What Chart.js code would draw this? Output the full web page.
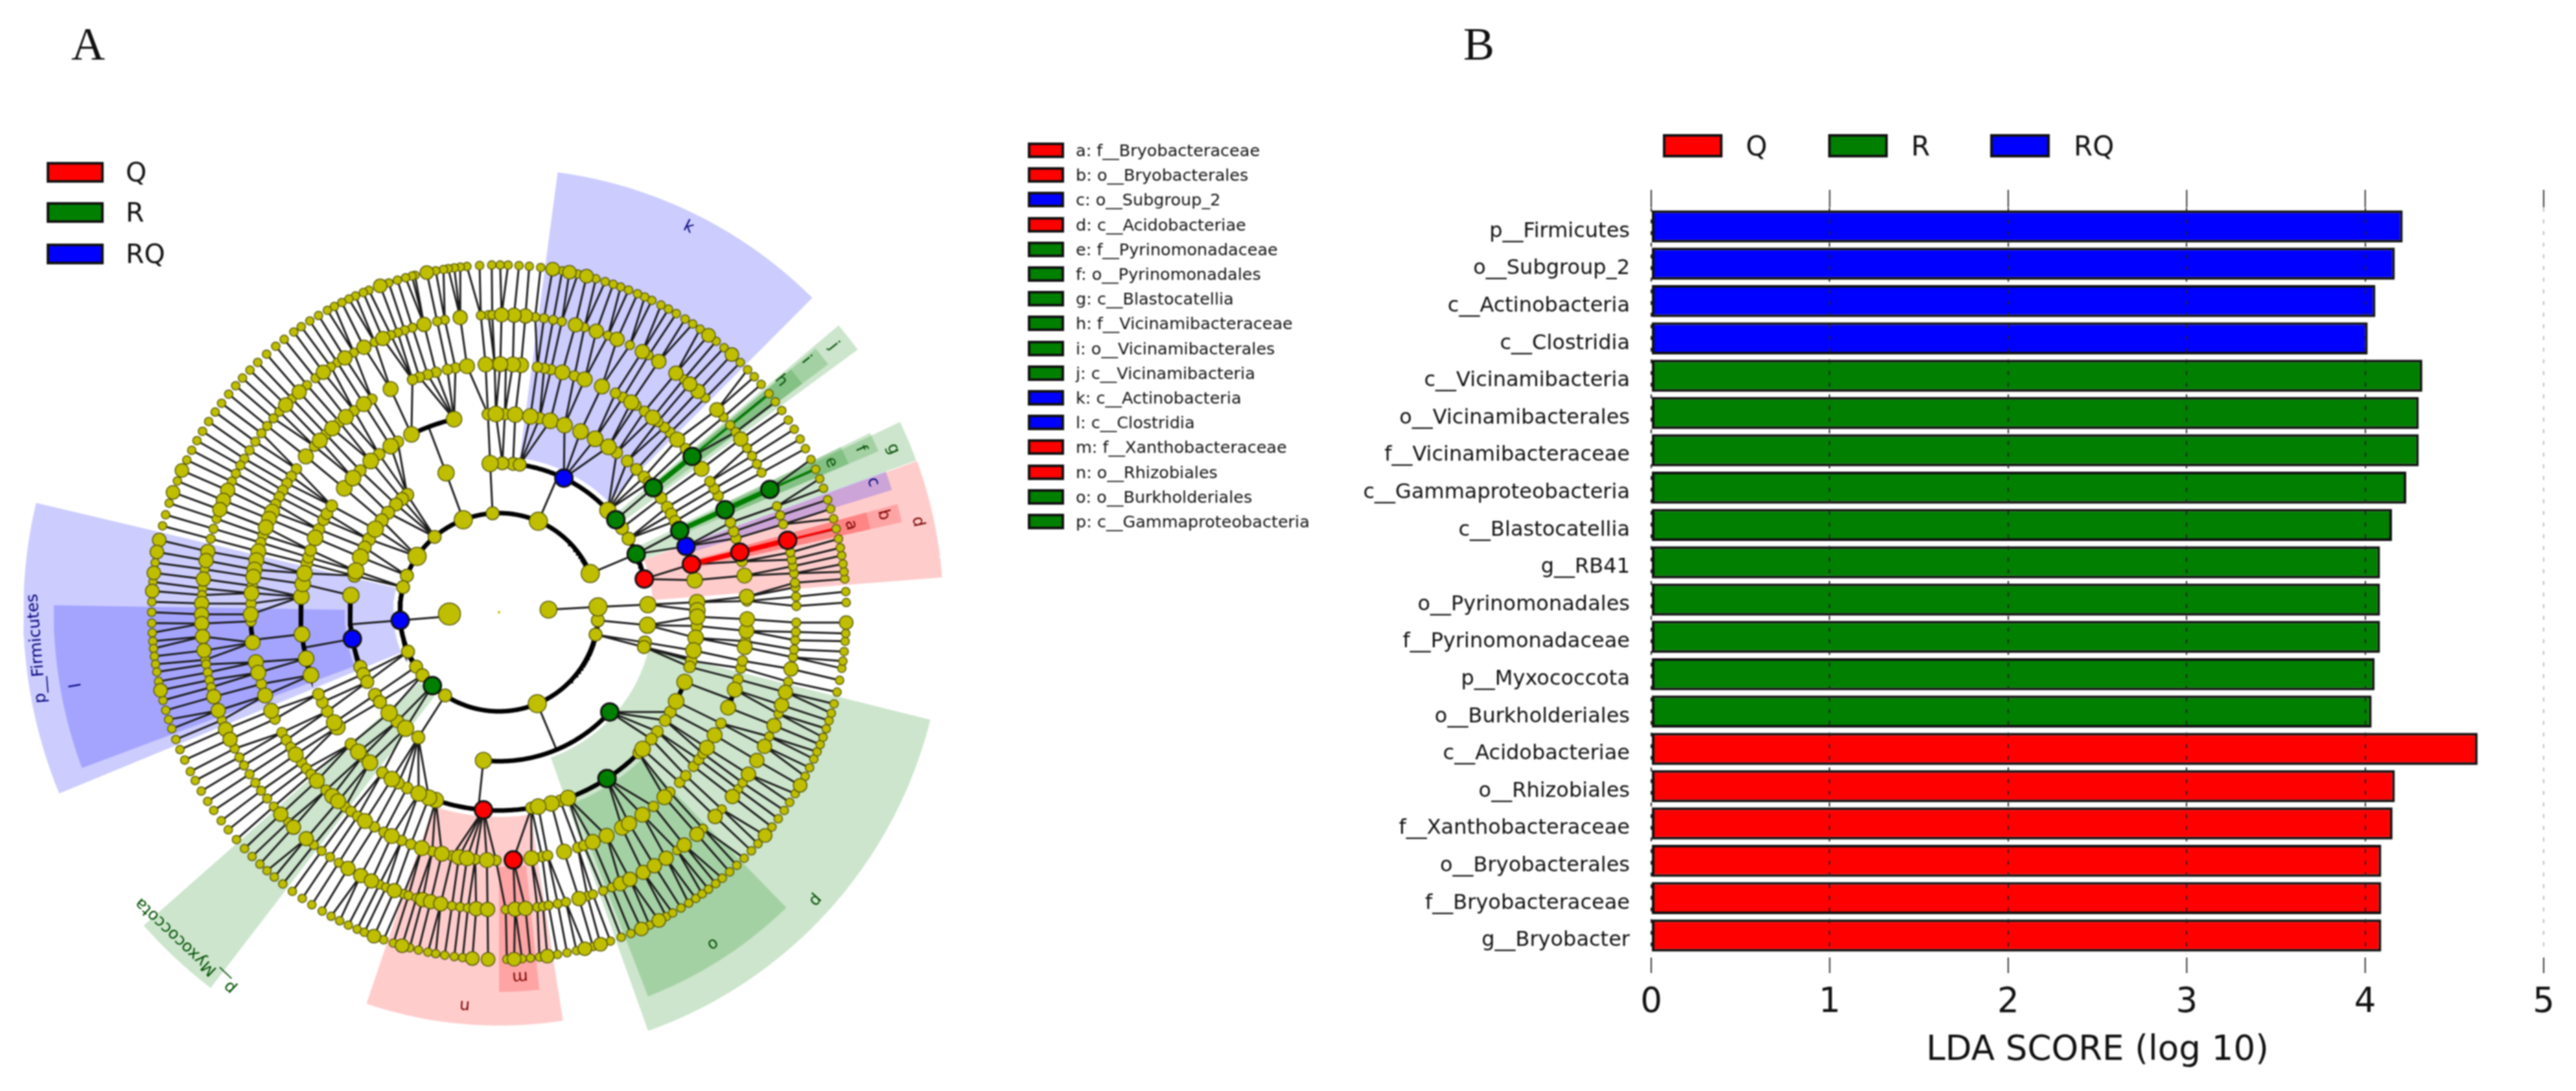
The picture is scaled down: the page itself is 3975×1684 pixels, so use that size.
<!DOCTYPE html>
<html>
<head>
<meta charset="utf-8">
<script src="https://cdn.jsdelivr.net/npm/chart.js@4/dist/chart.umd.min.js"></script>
<style>
body { margin: 0; background: #fff; font-family: "DejaVu Sans", sans-serif; color: #111; }
#page { position: relative; width: 3975px; height: 1684px; overflow: hidden; filter: blur(0.8px); }
canvas { position: absolute; display: block; }
.letter { position: absolute; font-family: "Liberation Serif", serif; font-size: 72px; line-height: 72px; }
.sw { position: absolute; box-sizing: border-box; border: 4px solid #111; }
.txt { position: absolute; white-space: pre; transform: translateY(-50%); }
</style>
</head>
<body>
<div id="page">
  <canvas id="clado" width="1500" height="1684" style="left:0;top:0"></canvas>
  <canvas id="bars" width="1946" height="1684" style="left:2040px;top:0"></canvas>
  <div class="letter" style="left:110px;top:32px">A</div>
  <div class="letter" style="left:2258px;top:32px">B</div>
</div>
<script>
// panel B
const categories = ['p__Firmicutes', 'o__Subgroup_2', 'c__Actinobacteria', 'c__Clostridia', 'c__Vicinamibacteria',
  'o__Vicinamibacterales', 'f__Vicinamibacteraceae', 'c__Gammaproteobacteria', 'c__Blastocatellia', 'g__RB41',
  'o__Pyrinomonadales', 'f__Pyrinomonadaceae', 'p__Myxococcota', 'o__Burkholderiales', 'c__Acidobacteriae',
  'o__Rhizobiales', 'f__Xanthobacteraceae', 'o__Bryobacterales', 'f__Bryobacteraceae', 'g__Bryobacter']
const ldaScores = [4.21, 4.166, 4.057, 4.014, 4.32, 4.30, 4.30, 4.23, 4.15, 4.083,
  4.083, 4.083, 4.053, 4.036, 4.63, 4.166, 4.153, 4.09, 4.09, 4.09]
const barGroups = ['RQ', 'RQ', 'RQ', 'RQ', 'R', 'R', 'R', 'R', 'R', 'R', 'R', 'R', 'R', 'R', 'Q', 'Q', 'Q', 'Q', 'Q', 'Q']
const xTicks = [0, 1, 2, 3, 4, 5]
const groupNames = ['Q', 'R', 'RQ']
const groupColors = { Q: '#ff0000', R: '#007f00', RQ: '#0000ff' }

// panel A legend
const cladeNames = ['a: f__Bryobacteraceae', 'b: o__Bryobacterales', 'c: o__Subgroup_2', 'd: c__Acidobacteriae',
  'e: f__Pyrinomonadaceae', 'f: o__Pyrinomonadales', 'g: c__Blastocatellia', 'h: f__Vicinamibacteraceae',
  'i: o__Vicinamibacterales', 'j: c__Vicinamibacteria', 'k: c__Actinobacteria', 'l: c__Clostridia',
  'm: f__Xanthobacteraceae', 'n: o__Rhizobiales', 'o: o__Burkholderiales', 'p: c__Gammaproteobacteria']
const cladeGroups = ['Q', 'Q', 'RQ', 'Q', 'R', 'R', 'R', 'R', 'R', 'R', 'RQ', 'RQ', 'Q', 'Q', 'R', 'R']

// cladogram: radius of each level, then node angles (degrees) read per level
const ringRadius = [0, 76.5, 153, 230, 306, 383, 459, 536]
const smallRadius = [0, 13, 10, 10, 9, 8, 7, 6.5]
const bigRadius = [0, 17, 14, 12.5, 12, 11.5, 11, 10.5]

const ring1Small = [3]
const ring1Big = [182]
const ring2Small = [355.3, 347, 93.7, 130.5, 158.3, 165.3, 203.4, 213.3, 219.5, 237.1]
const ring2Big = [3.1, 23, 66.6, 111.1, 145.7, 292.7]
const ring3Small = [348.3, 346.5, 84.6, 82, 88.7, 29.6, 34.4, 128, 130.6, 133.7, 138.1, 141.9, 150.7, 154.3, 165.8,
  201.5, 204.5, 207.9, 213.7, 217, 227, 237.2]
const ring3Big = [2.9, 355, 43.1, 93.4, 110.8, 146.1, 158.3, 163.9, 173.5, 222.5, 231.2, 264]
const ring4Small = [88.3, 78.2, 53.6, 49.7, 46.1, 43, 40.8, 35.2, 32, 29.7, 27.3, 356, 345.8, 344, 329.8, 326.9, 323,
  320.2, 314.8, 288, 279.4, 242.4, 239.5, 234, 226.6, 221.7, 210, 207, 204.4, 165.7, 163.9, 161.8, 155.3, 152.2,
  150.2, 147.5, 134.4, 127.2, 120.7, 93.2]
const ring4Big = [85.3, 80.9, 75, 70.7, 65.7, 61, 56.5, 9.3, 2.9, 0.5, 358.7, 352.6, 348.9, 339.4, 333.3, 316.4, 290.4,
  285.3, 281.4, 251.4, 249.3, 246.1, 237.3, 229.4, 224.8, 215.4, 213.8, 198.5, 193.5, 186.4, 175.5, 171.8, 168.7,
  158, 141.3, 137.4, 130.3, 123.1, 116.2, 103.1, 90.9]
const ring5Small = [100.1, 102, 104.7, 106.7, 108.7, 110.4, 120.8, 125.7, 130, 134.2, 138, 144.7, 146.8, 148.7, 150.6,
  152.3, 154.2, 161.9, 163.7, 173.9, 178, 182.1, 196.8, 205.5, 209, 211, 213, 217.3, 219.1, 220.8, 225.8, 231.7,
  233.4, 235.3, 239.9, 242.4, 246.9, 249.2, 254.4, 259.1, 264.5, 269.3, 280, 281.3, 288.5, 290, 308.5, 313.5, 316.7,
  318.8, 321.6, 323.6, 325.3, 333.4, 344.3, 347, 348.7, 353.3, 2.6, 11.8, 17.3, 19, 21.2, 28, 29.9, 31.8, 41.3, 46.4,
  48.2, 50.2, 54.1, 56.5, 60, 62, 72.3, 77.9, 79.5, 81.1, 88.4, 91]
const ring5Big = [97.4, 115.9, 123, 128.1, 132.2, 136.2, 141.1, 156.1, 157.9, 160, 165.8, 167.9, 170.1, 171.8, 175.6,
  180.5, 187, 191.6, 194.1, 199.6, 203.4, 215, 222.8, 227.8, 229.6, 237.3, 244.4, 251.9, 256.7, 260.7, 262.6, 267.2,
  277.5, 285.2, 292.2, 295.7, 299.7, 301.6, 305.3, 311.8, 326.9, 330.3, 337.4, 341.8, 351.9, 355.7, 358.4, 3.6, 8.5,
  35.3, 44.1, 51.7, 57.8, 65.5, 69.8, 75.2, 84.9, 86.8, 89.7, 93.1]
const ring6Small = [92, 93.5, 100.5, 102, 106.9, 108.5, 109.9, 111.3, 114.7, 119.2, 122.9, 124.4, 128.1, 130.2, 134.1,
  137.6, 139.3, 141.2, 143, 145, 147, 148.9, 150.4, 152.2, 153.9, 161.7, 163.7, 165.7, 171.7, 175.4, 176.7, 189.2,
  190.1, 191.7, 193.2, 194.6, 201.3, 207.3, 209.2, 211, 213, 215, 216.9, 218.8, 220.8, 224.9, 231.5, 233.4, 235.4,
  237.4, 246.3, 247.7, 251.3, 252.3, 253.9, 260.9, 262.5, 264, 271.3, 277.4, 278.5, 279.6, 281.4, 283, 287.3, 288.4,
  290.5, 292.3, 306.8, 313.3, 318.5, 323.5, 325, 335.3, 340, 346.5, 351.3, 352.8, 354.6, 356.2, 358, 1.2, 3, 4.8, 5.7,
  7.5, 8.9, 10.2, 11.6, 17.2, 19, 20.9, 28, 29.9, 31.7, 33.5, 37.3, 39, 41, 46.1, 51.6, 59.8, 63.9, 68.5, 73.3, 77.8,
  79.5, 81.3, 83, 91.3]
const ring6Big = [97.5, 104.6, 113, 117, 121.2, 126.2, 132.2, 135.8, 155.8, 157.9, 159.8, 168.2, 170, 173.6, 178.3,
  180.4, 182.2, 184.7, 187.4, 196.5, 199.3, 203.2, 205.3, 222.8, 226.3, 229.6, 239.5, 242.3, 244.6, 249.4, 255.1,
  256.7, 258.7, 265.6, 267.8, 273.1, 275.1, 285.6, 294.1, 296.1, 299, 301.5, 304.2, 308.5, 311.7, 316.6, 321.7, 327,
  330.1, 333.2, 337.6, 341.8, 344.4, 349, 35.6, 42.9, 48, 50.1, 53.5, 57.5, 61.2, 66.6, 70.9, 75.1, 84.9, 87.1, 89.5]
const ring7Small = [91.2, 93.2, 95.3, 96.4, 97.4, 98.4, 99.2, 100.5, 104, 104.5, 105.6, 107, 108.5, 112, 113, 114.4,
  115.6, 116.9, 118.3, 119.6, 121.3, 123, 124.7, 126.2, 128.2, 130, 132, 134, 135.8, 137.6, 139.3, 141.1, 143, 144.8,
  146.7, 148.6, 150.4, 152.2, 154, 157.8, 161.7, 163.7, 165.6, 171.8, 175, 178.3, 180, 181.8, 183.4, 184.8, 186,
  187.3, 188.6, 189.9, 191.5, 194.7, 196.4, 198, 199.6, 201.5, 203.3, 205.2, 207.3, 209, 211, 213, 214.8, 216.9, 218.8,
  220.9, 222.9, 224.7, 226.5, 228.1, 229.7, 231.5, 233.5, 235.5, 237.4, 239.4, 241.1, 242.7, 244.3, 245.9, 247.2,
  250.6, 252.3, 255.1, 256.6, 258.2, 259.5, 261, 262.6, 264, 271.3, 273.8, 275.2, 276.7, 279.7, 281.3, 282.9, 285.7,
  288.7, 290.6, 292.3, 295.7, 298.8, 300, 301.6, 303.1, 304.5, 305.8, 307.1, 308.6, 310, 311.6, 313.2, 314.9, 316.6,
  318.2, 321.8, 323.5, 325.2, 326.8, 328.5, 331.8, 333.4, 335, 336.3, 337.6, 338.9, 340.4, 341.8, 343.1, 344.7, 346.7,
  348.7, 350.7, 351.9, 353.5, 355.2, 356.5, 1.6, 3.4, 5.5, 6.7, 8, 9.4, 10.7, 12.2, 13.9, 15.6, 17.3, 18.9, 20.9, 22.6,
  24.3, 26.1, 28.1, 29.9, 31.8, 33.6, 35.5, 37.3, 39, 41, 42.7, 44.3, 46, 49.6, 51.3, 54.6, 56.1, 57.6, 59.3, 60.8,
  62.2, 63.9, 65.2, 66.5, 68.1, 69.5, 70.8, 72.2, 73.8, 76.9, 79.5, 83.1, 85, 86.7, 88.5, 89.8]
const ring7Big = [102, 110, 155.9, 159.8, 168, 170, 173.5, 176.5, 193, 248.9, 253.8, 265.6, 268.2, 272.5, 278, 284.3,
  287, 294.2, 297.4, 320, 330.1, 358.3, 47.9, 52.9, 75.4, 78.3, 81.1]

// coloured biomarkers: [level, angle]
const redNodes = [[3, 12.9], [4, 14], [5, 14], [6, 14], [4, 265.5], [5, 273.3]]
const greenNodes = [[2, 227.8], [3, 23], [3, 38.4], [3, 318], [4, 24.3], [4, 38.9], [4, 303], [5, 24.4], [5, 38.9], [6, 24.4]]
const blueNodes = [[2, 184.7], [3, 64.2], [3, 190.3], [4, 19.4]]

// thick arcs: [level, from, to, angle of the line coming from the parent level]
const arcs = [[2, 23, 355.3, 184.7], [3, 12.9, 38.4, 23], [3, 43.1, 88.7, 66.6], [3, 173.5, 201.5, 184.7],
  [3, 264, 318, 292.7], [4, 103.1, 116.2, 110.8], [4, 175.5, 198.5, 190.3], [4, 251.4, 316.4, 264],
  [4, 333.3, 339.4, 346.5], [5, 182.1, 187, 186.4], [5, 337.4, 341.8, 339.4]]

// coloured edges: [angle, from level, to level, group, width]
const colorEdges = [[14, 4, 6, 'Q', 8], [14, 6, 7, 'Q', 3.5], [24.4, 4, 6, 'R', 8], [24.4, 6, 7, 'R', 3.5],
  [38.9, 4, 5, 'R', 8], [38.9, 5, 7, 'R', 3.5]]

// shaded sectors: [group, from, to, inner radius, outer radius]
const sectors = [['RQ', 45.1, 82.4, 240, 685], ['RQ', 166.7, 202.4, 163, 734], ['RQ', 179.1, 200.5, 238, 687],
  ['R', 221.4, 232.5, 163, 731], ['Q', 251.3, 278.9, 316, 638], ['Q', 270, 276.1, 393, 586],
  ['R', 289.6, 346, 238, 686], ['R', 291.2, 314.2, 316, 636], ['Q', 4.5, 19.9, 238, 686],
  ['Q', 12.6, 15.2, 316, 637], ['Q', 12.6, 15.2, 393, 587], ['RQ', 17.3, 20, 316, 635],
  ['R', 20, 25.4, 238, 685], ['R', 23, 25.8, 316, 636], ['R', 23, 25.8, 393, 586],
  ['R', 36.2, 40.2, 238, 686], ['R', 37, 39.8, 316, 636], ['R', 37, 39.8, 393, 586]]

// sector labels: [text, angle, radius, group]
const sectorLabels = [['k', 63.8, 662, 'RQ'], ['l', 189.8, 662, 'RQ'], ['p__Firmicutes', 184.5, 715, 'RQ'],
  ['p__Myxococcota', 226.8, 706, 'R'], ['n', 265, 609, 'Q'], ['m', 273.3, 563, 'Q'], ['o', 302.8, 609, 'R'],
  ['p', 317.7, 660, 'R'], ['d', 12.2, 661, 'Q'], ['b', 14.2, 612, 'Q'], ['a', 13.9, 559, 'Q'], ['c', 19.2, 611, 'RQ'],
  ['g', 22.5, 658, 'R'], ['f', 24.3, 612, 'R'], ['e', 24.3, 562, 'R'], ['h', 39.4, 563, 'R'], ['i', 39.4, 613, 'R'],
  ['j', 38.5, 660, 'R']]
const labelColors = { Q: '#7a0000', R: '#004d00', RQ: '#00007a' }

const ringSmallList = [[], ring1Small, ring2Small, ring3Small, ring4Small, ring5Small, ring6Small, ring7Small]
const ringBigList = [[], ring1Big, ring2Big, ring3Big, ring4Big, ring5Big, ring6Big, ring7Big]

function polar(r, deg){
    const a = deg * Math.PI / 180
    return { x: r * Math.cos(a), y: r * Math.sin(a) }
}

function angleGap(a, b){
    const d = Math.abs(a - b) % 360
    return d > 180 ? 360 - d : d
}

function arcPoints(r, from, to){
    const pts = []
    const end = to < from ? to + 360 : to
    for(let d = from; d < end; d += 0.5){
        pts.push(polar(r, d))
    }
    pts.push(polar(r, end))
    return pts
}

function inArc(level, angle){
    return arcs.some(([l, from, to]) => {
        if(l !== level) return false
        const end = to < from ? to + 360 : to
        const a = angle < from ? angle + 360 : angle
        return a <= end
    })
}

function allAngles(level){
    const pick = list => list.filter(n => n[0] === level).map(n => n[1])
    return ringSmallList[level].concat(ringBigList[level], pick(redNodes), pick(greenNodes), pick(blueNodes))
}

function linkPoints(){
    const pts = []
    const gap = { x: NaN, y: NaN }
    for(let level = 2; level <= 7; level++){
        const parents = allAngles(level - 1)
        allAngles(level).forEach(a => {
            if(inArc(level, a)) return
            const p = parents.reduce((best, c) => angleGap(c, a) < angleGap(best, a) ? c : best, parents[0])
            pts.push(polar(ringRadius[level - 1], p), polar(ringRadius[level], a), gap)
        })
    }
    arcs.forEach(([level, , , parent]) => {
        pts.push(polar(ringRadius[level - 1], parent), polar(ringRadius[level], parent), gap)
    })
    return pts
}

function lineSet(data, color, width, order){
    return { data: data, borderColor: color, borderWidth: width, pointRadius: 0, showLine: true,
             spanGaps: false, fill: false, order: order, borderCapStyle: 'butt', tension: 0 }
}

function pointSet(data, radius, color, border, borderWidth, order){
    return { data: data, showLine: false, pointRadius: radius, pointBackgroundColor: color,
             pointBorderColor: border, pointBorderWidth: borderWidth, order: order }
}

const cladoSets = []

sectors.forEach(([group, from, to, inner, outer], i) => {
    const pts = arcPoints(outer, from, to).concat(arcPoints(inner, from, to).reverse())
    pts.push(pts[0])
    cladoSets.push({ data: pts, borderWidth: 0, pointRadius: 0, showLine: true, fill: 'shape',
                     backgroundColor: groupColors[group] + '33', order: 100 - i })
})

cladoSets.push(lineSet(linkPoints(), '#1c1c1c', 3, 60))

arcs.forEach(([level, from, to]) => {
    cladoSets.push(lineSet(arcPoints(ringRadius[level], from, to), '#000', 7, 50))
})

colorEdges.forEach(([angle, from, to, group, width]) => {
    cladoSets.push(lineSet([polar(ringRadius[from], angle), polar(ringRadius[to], angle)], groupColors[group], width, 40))
})

for(let level = 7; level >= 1; level--){
    cladoSets.push(pointSet(ringSmallList[level].map(a => polar(ringRadius[level], a)), smallRadius[level], '#bfbf00', '#55550a', 1.5, 30 - level * 2))
    cladoSets.push(pointSet(ringBigList[level].map(a => polar(ringRadius[level], a)), bigRadius[level], '#bfbf00', '#55550a', 1.5, 29 - level * 2))
}
cladoSets.push(pointSet([{ x: 0, y: 0 }], 2, '#bfbf00', '#bfbf00', 0, 5))

const coloured = { Q: redNodes, R: greenNodes, RQ: blueNodes }
groupNames.forEach(g => {
    cladoSets.push(pointSet(coloured[g].map(n => polar(ringRadius[n[0]], n[1])), 13.5, groupColors[g], '#111', 3, 1))
})

const labelPlugin = {
    id: 'sectorLabels',
    afterDatasetsDraw(chart){
        const { ctx, scales } = chart
        sectorLabels.forEach(([text, angle, r, group]) => {
            const p = polar(r, angle)
            ctx.save()
            ctx.translate(scales.x.getPixelForValue(p.x), scales.y.getPixelForValue(p.y))
            ctx.rotate((90 - angle) * Math.PI / 180)
            ctx.font = '25px "DejaVu Sans"'
            ctx.fillStyle = labelColors[group]
            ctx.textAlign = 'center'
            ctx.textBaseline = 'middle'
            ctx.fillText(text, 0, 0)
            ctx.restore()
        })
    }
}

new Chart(document.getElementById('clado'), {
    type: 'line',
    data: { datasets: cladoSets },
    plugins: [labelPlugin],
    options: {
        responsive: false,
        animation: false,
        // autoPadding would shrink the plot by the largest point radius
        layout: { padding: 0, autoPadding: false },
        plugins: { legend: { display: false }, tooltip: { enabled: false } },
        scales: {
            x: { type: 'linear', display: false, min: -770, max: 730 },
            y: { type: 'linear', display: false, min: -739, max: 945 }
        }
    }
})

// solid tick marks above and below the plot
const tickPlugin = {
    id: 'outerTicks',
    afterDraw(chart){
        const { ctx, scales } = chart
        ctx.save()
        ctx.strokeStyle = '#333'
        ctx.lineWidth = 2
        xTicks.forEach(v => {
            const x = scales.x.getPixelForValue(v)
            ctx.beginPath()
            ctx.moveTo(x, 293)
            ctx.lineTo(x, 320)
            ctx.moveTo(x, 1478)
            ctx.lineTo(x, 1502)
            ctx.stroke()
        })
        ctx.restore()
    }
}

new Chart(document.getElementById('bars'), {
    type: 'bar',
    data: {
        labels: categories,
        datasets: [{
            data: ldaScores,
            backgroundColor: barGroups.map(g => groupColors[g]),
            borderColor: '#111',
            borderWidth: 4,
            borderSkipped: false,
            barPercentage: 0.86,
            categoryPercentage: 1
        }]
    },
    plugins: [tickPlugin],
    options: {
        indexAxis: 'y',
        responsive: false,
        animation: false,
        // the x scale reserves about 61px on the right for its last label, the canvas is widened for that
        layout: { padding: { top: 320.7, right: 33, left: 0, bottom: 0 }, autoPadding: false },
        plugins: { legend: { display: false }, tooltip: { enabled: false } },
        scales: {
            x: {
                type: 'linear',
                min: 0,
                max: 5,
                afterFit(scale){ scale.height = 211.3 },
                border: { display: false, dash: [6, 12] },
                grid: {
                    z: 1,
                    drawTicks: false,
                    lineWidth: 2,
                    color: ctx => ctx.tick && ctx.tick.value === 5 ? '#bbb' : '#222'
                },
                ticks: { stepSize: 1, padding: 44, color: '#111', font: { family: 'DejaVu Sans', size: 53 } },
                title: {
                    display: true,
                    text: 'LDA SCORE (log 10)',
                    color: '#111',
                    font: { family: 'DejaVu Sans', size: 53 },
                    padding: { top: 0, bottom: 30 }
                }
            },
            y: {
                afterFit(scale){ scale.width = 508 },
                border: { display: false },
                grid: { display: false, drawTicks: false },
                ticks: { padding: 33, labelOffset: 8, autoSkip: false, color: '#111', font: { family: 'DejaVu Sans', size: 32 } }
            }
        }
    }
})

// html legends
const page = document.getElementById('page')

function addSwatch(x, y, w, h, color, border){
    const s = document.createElement('div')
    s.className = 'sw'
    s.style.cssText = `left:${x}px;top:${y}px;width:${w}px;height:${h}px;background:${color};border-width:${border}px`
    page.appendChild(s)
}

function addText(x, y, text, size){
    const t = document.createElement('div')
    t.className = 'txt'
    t.style.cssText = `left:${x}px;top:${y}px;font-size:${size}px`
    t.textContent = text
    page.appendChild(t)
}

const leftLegendY = [266, 328, 392]
groupNames.forEach((g, i) => {
    addSwatch(72, leftLegendY[i] - 16, 88, 32, groupColors[g], 4)
    addText(194, leftLegendY[i], g, 41)
})

cladeNames.forEach((name, i) => {
    const y = 232 + i * 38.2
    addSwatch(1586, y - 12, 56, 24, groupColors[cladeGroups[i]], 4)
    addText(1660, y, name, 25.5)
})

const topLegendX = [2566, 2821, 3071]
const topLegendTextX = [2694, 2949, 3200]
groupNames.forEach((g, i) => {
    addSwatch(topLegendX[i], 207, 92, 36, groupColors[g], 4)
    addText(topLegendTextX[i], 225, g, 42)
})
</script>
</body>
</html>
